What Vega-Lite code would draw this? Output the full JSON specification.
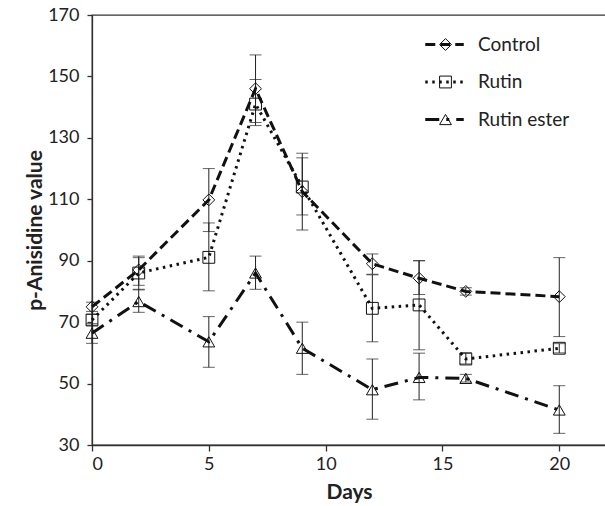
{
  "$schema": "https://vega.github.io/schema/vega-lite/v6.json",
  "width": 514,
  "height": 430,
  "autosize": {"type": "none"},
  "padding": {"left": 92, "top": 15, "right": 0, "bottom": 61},
  "background": "white",
  "config": {
    "font": "Lato",
    "view": {"stroke": "#333", "strokeWidth": 1.3},
    "axis": {
      "grid": false,
      "domainColor": "#333",
      "domainWidth": 1.3,
      "tickColor": "#333",
      "tickWidth": 1.3,
      "labelFont": "Lato",
      "labelFontSize": 18,
      "labelColor": "#222",
      "titleFont": "Lato",
      "titleFontSize": 21,
      "titleFontWeight": "bold",
      "titleColor": "#222"
    },
    "axisY": {"tickSize": 5, "labelPadding": 8, "titlePadding": 2},
    "axisX": {"tickSize": 6, "labelPadding": 4, "titlePadding": 8}
  },
  "data": {
    "values": [
      {"day": 0, "series": "Control", "value": 75, "lo": 73.5, "hi": 76.5},
      {"day": 2, "series": "Control", "value": 87, "lo": 82, "hi": 91.5},
      {"day": 5, "series": "Control", "value": 109.8, "lo": 99.5, "hi": 120},
      {"day": 7, "series": "Control", "value": 146, "lo": 135, "hi": 157},
      {"day": 9, "series": "Control", "value": 112.5, "lo": 100, "hi": 125},
      {"day": 12, "series": "Control", "value": 89, "lo": 85.6, "hi": 92.2},
      {"day": 14, "series": "Control", "value": 84.3, "lo": 79, "hi": 90},
      {"day": 16, "series": "Control", "value": 80, "lo": 78.8, "hi": 81.2},
      {"day": 20, "series": "Control", "value": 78.3, "lo": 65.3, "hi": 91},
      {"day": 0, "series": "Rutin", "value": 70.7, "lo": 69, "hi": 72.5},
      {"day": 2, "series": "Rutin", "value": 86, "lo": 80.5, "hi": 91},
      {"day": 5, "series": "Rutin", "value": 91.1, "lo": 80.2, "hi": 102.3},
      {"day": 7, "series": "Rutin", "value": 141, "lo": 134, "hi": 149},
      {"day": 9, "series": "Rutin", "value": 114, "lo": 104.9, "hi": 123.5},
      {"day": 12, "series": "Rutin", "value": 74.5, "lo": 63.6, "hi": 85.4},
      {"day": 14, "series": "Rutin", "value": 75.6, "lo": 61, "hi": 90},
      {"day": 16, "series": "Rutin", "value": 58, "lo": 56.4, "hi": 60},
      {"day": 20, "series": "Rutin", "value": 61.5, "lo": 60, "hi": 63},
      {"day": 0, "series": "Rutin ester", "value": 66.4, "lo": 63.1, "hi": 69.5},
      {"day": 2, "series": "Rutin ester", "value": 76.7, "lo": 73.2, "hi": 80.7},
      {"day": 5, "series": "Rutin ester", "value": 63.6, "lo": 55.3, "hi": 71.8},
      {"day": 7, "series": "Rutin ester", "value": 86, "lo": 80.7, "hi": 91.5},
      {"day": 9, "series": "Rutin ester", "value": 61.5, "lo": 53, "hi": 70},
      {"day": 12, "series": "Rutin ester", "value": 48, "lo": 38.4, "hi": 58},
      {"day": 14, "series": "Rutin ester", "value": 52, "lo": 44.7, "hi": 59.9},
      {"day": 16, "series": "Rutin ester", "value": 51.7, "lo": 50.5, "hi": 53},
      {"day": 20, "series": "Rutin ester", "value": 41.4, "lo": 33.8, "hi": 49.3}
    ]
  },
  "encoding": {
    "x": {
      "field": "day",
      "type": "quantitative",
      "title": "Days",
      "scale": {"domain": [0, 22], "nice": false},
      "axis": {"values": [0, 5, 10, 15, 20]}
    }
  },
  "layer": [
    {
      "mark": {"type": "rule", "color": "#222", "strokeWidth": 1},
      "encoding": {
        "y": {"field": "lo", "type": "quantitative", "title": "p-Anisidine value", "scale": {"domain": [30, 170], "nice": false}, "axis": {"values": [30, 50, 70, 90, 110, 130, 150, 170]}},
        "y2": {"field": "hi"}
      }
    },
    {
      "mark": {"type": "tick", "orient": "horizontal", "size": 12, "thickness": 1, "color": "#222"},
      "encoding": {
        "y": {"field": "lo", "type": "quantitative", "title": "p-Anisidine value"}
      }
    },
    {
      "mark": {"type": "tick", "orient": "horizontal", "size": 12, "thickness": 1, "color": "#222"},
      "encoding": {
        "y": {"field": "hi", "type": "quantitative", "title": "p-Anisidine value"}
      }
    },
    {
      "mark": {"type": "line", "color": "#111", "strokeWidth": 3},
      "encoding": {
        "y": {"field": "value", "type": "quantitative", "title": "p-Anisidine value"},
        "strokeDash": {
          "field": "series",
          "type": "nominal",
          "scale": {"domain": ["Control", "Rutin", "Rutin ester"], "range": [[10, 5], [2.5, 4.5], [14, 7, 3, 7]]},
          "legend": {
            "title": null,
            "orient": "none",
            "legendX": 343,
            "legendY": 20,
            "padding": 0,
            "symbolType": "M-3.5,0H3.5",
            "symbolSize": 121,
            "symbolStrokeWidth": 3,
            "symbolStrokeColor": "#111",
            "labelFont": "Lato",
            "labelFontSize": 19,
            "labelColor": "#222",
            "labelOffset": 24,
            "rowPadding": 17.5
          }
        }
      }
    },
    {
      "mark": {"type": "point", "filled": false, "color": "#111", "strokeWidth": 1, "opacity": 1},
      "encoding": {
        "y": {"field": "value", "type": "quantitative", "title": "p-Anisidine value"},
        "shape": {
          "field": "series",
          "type": "nominal",
          "scale": {"range": ["diamond", "square", "triangle-up"]},
          "legend": {
            "title": null,
            "orient": "none",
            "legendX": 344,
            "legendY": 20,
            "padding": 0,
            "symbolSize": 140,
            "symbolStrokeWidth": 1,
            "symbolStrokeColor": "#111",
            "labelFont": "Lato",
            "labelFontSize": 19,
            "labelExpr": "''",
            "rowPadding": 17.5
          }
        },
        "size": {"value": 140}
      }
    }
  ]
}
